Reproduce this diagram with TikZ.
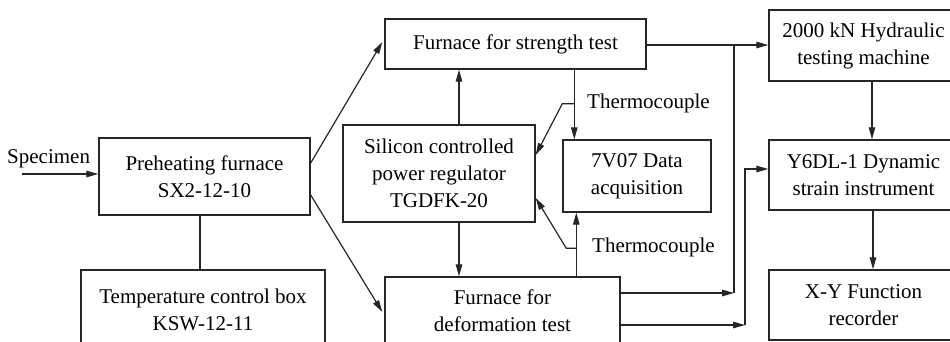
\documentclass[tikz,border=0pt]{standalone}
\usepackage{fontspec}
\setmainfont{Liberation Serif}
\usetikzlibrary{arrows.meta,calc}
\begin{document}
\begin{tikzpicture}[x=1pt,y=-1pt,
  box/.style={draw=black!85, line width=1.4pt, inner sep=0pt, align=center,
    font=\fontsize{21}{27}\selectfont},
  lbl/.style={inner sep=0pt, font=\fontsize{21}{27}\selectfont},
  conn/.style={line width=1.2pt, draw=black!85},
  arr/.style={conn, -{Triangle[length=12pt,width=6.5pt]}}]
\useasboundingbox (0,0) rectangle (950,342);
\clip (0,0) rectangle (950,342);
\node[box, minimum width=211pt, minimum height=77pt] (pre) at (204.5,176.5) {Preheating furnace\\SX2-12-10};
\node[box, minimum width=244pt, minimum height=80pt] (temp) at (203,310) {Temperature control box\\KSW-12-11};
\node[box, minimum width=261pt, minimum height=50pt] (str) at (515.5,44) {Furnace for strength test};
\node[box, minimum width=192pt, minimum height=97pt] (sil) at (439,173.5) {Silicon controlled\\power regulator\\TGDFK-20};
\node[box, minimum width=148pt, minimum height=72pt] (dat) at (637,176) {7V07 Data\\acquisition};
\node[box, minimum width=235pt, minimum height=68pt] (def) at (502.5,311) {Furnace for\\deformation test};
\node[box, minimum width=189pt, minimum height=71pt] (hyd) at (863.5,45.5) {2000 kN Hydraulic\\testing machine};
\node[box, minimum width=189pt, minimum height=70pt] (y6) at (863.5,175) {Y6DL-1 Dynamic\\strain instrument};
\node[box, minimum width=189pt, minimum height=70pt] (xy) at (863.5,305) {X-Y Function\\recorder};
\node[lbl, anchor=west] (spec) at (7,159) {Specimen};
\node[lbl, anchor=west] (tc1) at (587,103) {Thermocouple};
\node[lbl, anchor=west] (tc2) at (592,247) {Thermocouple};
\coordinate (sin) at (22,174);
% connectors
\draw[arr] (sin) -- (sin -| pre.west);
\draw[conn] (pre.south) ++(-4.5,0) coordinate (ps) -- (ps |- temp.north);
\draw[arr] ([yshift=13.5pt]pre.east) -- ([yshift=2pt,xshift=-2pt]str.west);
\draw[arr] ([yshift=-18.5pt]pre.east) -- ([xshift=-2pt,yshift=-1pt]def.west);
\draw[arr] ([xshift=20pt]sil.north) -- ([xshift=20pt]sil.north |- str.south);
\draw[arr] ([xshift=20pt]sil.south) -- ([xshift=20pt]sil.south |- def.north);
\draw[arr] ([xshift=12pt]dat.north west |- str.south) coordinate (s1) -- ([xshift=12pt]dat.north west);
\coordinate (j1) at ($(s1)+(0,34)$);
\draw[arr] (j1) -- (j1 -| dat.west) -- ([yshift=18.5pt]sil.east);
\draw[arr] ([xshift=14pt]dat.south west |- def.north) coordinate (s2) -- ([xshift=14pt]dat.south west);
\coordinate (j2) at ($(s2)+(0,-28)$);
\draw[arr] (j2) -- ++(-10,0) -- ([yshift=-24.5pt]sil.east);
\draw[arr] ([yshift=-1pt]str.east) -- ([yshift=-1pt]str.east -| hyd.west);
\coordinate (v1) at (734,44);
\draw[arr] ([yshift=18pt]def.east) coordinate (d1) -- (d1 -| v1);
\draw[conn] (d1 -| v1) -- (v1);
\coordinate (v2) at (745,169);
\draw[arr] ([yshift=-14pt]def.east) coordinate (d2) -- (d2 -| v2);
\draw[arr] (d2 -| v2) -- (v2) -- (v2 -| y6.west);
\draw[arr] ([xshift=8.5pt]hyd.south) -- ([xshift=8.5pt]y6.north);
\draw[arr] ([xshift=9.5pt]y6.south) -- ([xshift=9.5pt]xy.north);
\end{tikzpicture}
\end{document}
